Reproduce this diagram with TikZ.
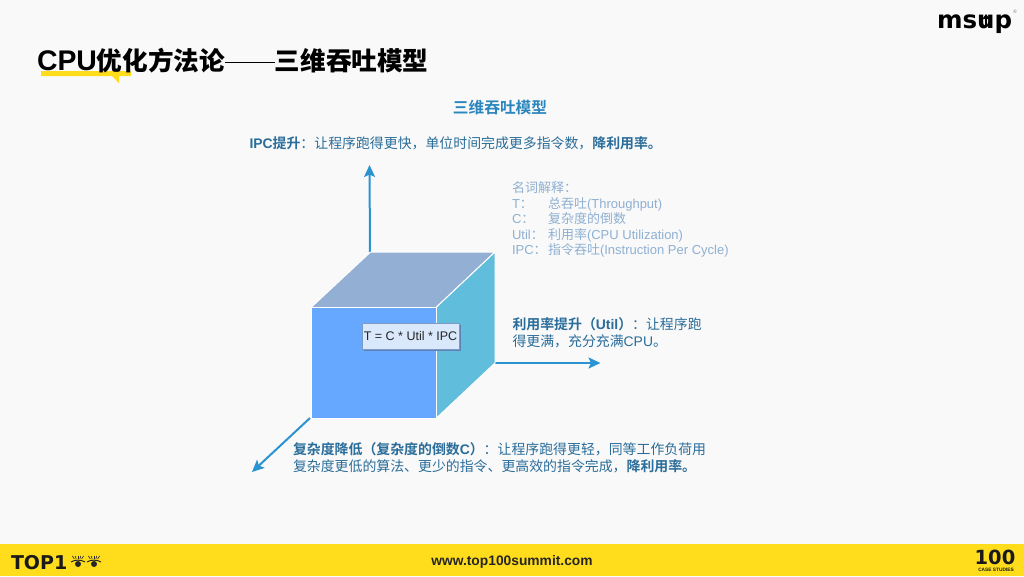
\documentclass[tikz,border=0pt]{standalone}
\usepackage{fontspec}
\setmainfont{Liberation Sans}
\newfontfamily\cjk{Noto Sans CJK SC}
\newfontfamily\cjkb{Noto Sans CJK SC Bold}
\newfontfamily\logofont{DejaVu Sans Bold}
\usetikzlibrary{arrows.meta}
\definecolor{pagebg}{HTML}{F9F9F9}
\definecolor{brandy}{HTML}{FFDD1C}
\definecolor{axisblue}{HTML}{2B93CF}
\definecolor{heading}{HTML}{2C86BE}
\definecolor{labeltxt}{HTML}{2A6D9A}
\definecolor{legendtxt}{HTML}{8FB0D2}
\definecolor{frontf}{HTML}{66A8FF}
\definecolor{topf}{HTML}{93AFD3}
\definecolor{sidef}{HTML}{60BDDB}
\definecolor{eqfill}{HTML}{DAE8FC}
\definecolor{eqdraw}{HTML}{7C9AC8}
\definecolor{eqshadow}{HTML}{5F82B5}
\tikzset{
 x=1pt,y=-1pt,
 txt/.style={inner sep=0,outer sep=0,anchor=west,align=left},
 axisline/.style={draw=axisblue,line width=2,-{Stealth[length=12,width=11,inset=2.5]}},
 face/.style={draw=white,line width=1,line join=round},
 label/.style={txt,text=labeltxt,font=\fontsize{13.9}{17}\selectfont},
 legend/.style={txt,anchor=base west,text=legendtxt,font=\fontsize{13}{14}\selectfont},
}
\newcommand{\zh}[1]{{\cjk #1}}
\newcommand{\zb}[1]{{\cjkb #1}}
\begin{document}
\begin{tikzpicture}
\useasboundingbox (0,0) rectangle (1024,576);
\fill[pagebg] (0,0) rectangle (1024,576);
% bottom band
\fill[brandy] (0,544) rectangle (1024,576);
% title highlight
\fill[brandy] (41,71) -- (131,71) -- (131,76) -- (119,76) -- (119,83) -- (112,76) -- (41,76) -- cycle;
\node[txt,font=\fontsize{25.6}{28}\bfseries\selectfont] (title) at (37,61) {\fontsize{28.4}{28}\selectfont CPU\fontsize{25.6}{28}\selectfont\zb{优化方法论}\rule[0.33em]{50pt}{0.6pt}\zb{三维吞吐模型}};
% msup logo
\node[txt,anchor=base west,font=\fontsize{24.5}{26}\selectfont] (logo) at (937,28) {\logofont msup};
\coordinate (arrowbase) at (986,26);
\coordinate (arrowtip) at (986,14);
\draw[line width=2.2,-{Triangle[length=5,width=7]}] (arrowbase) -- (arrowtip);
\node[inner sep=0,font=\fontsize{5}{5}\selectfont,text=gray] (reg) at (1015,12) {®};
% heading
\node[anchor=center,inner sep=0,text=heading,font=\fontsize{15.7}{17}\selectfont] (head) at (500,108) {\zb{三维吞吐模型}};
\node[label] (ipc) at (249.5,143.5) {\textbf{IPC}\zb{提升}\zh{：让程序跑得更快，单位时间完成更多指令数，}\zb{降利用率。}};
% legend
\node[legend] (l0) at (512,192) {\zh{名词解释：}};
\node[legend] (l1) at (512,208) {T\zh{：}};
\node[legend] (l1b) at (548,208) {\zh{总吞吐}(Throughput)};
\node[legend] (l2) at (512,223) {C\zh{：}};
\node[legend] (l2b) at (548,223) {\zh{复杂度的倒数}};
\node[legend] (l3) at (512,239) {Util\zh{：}};
\node[legend] (l3b) at (548,239) {\zh{利用率}(CPU Utilization)};
\node[legend] (l4) at (512,254) {IPC\zh{：}};
\node[legend] (l4b) at (548,254) {\zh{指令吞吐}(Instruction Per Cycle)};
% axes
\coordinate (o1) at (370,253);
\coordinate (o2) at (495,363);
\coordinate (o3) at (310,418);
\coordinate (a1) at (369.5,165);
\coordinate (a2) at (600.5,363);
\coordinate (a3) at (252,472);
\draw[axisline] (o1) -- (a1);
\draw[axisline] (o2) -- (a2);
\draw[axisline] (o3) -- (a3);
% cube
\filldraw[face,fill=topf] (311,307.5) -- (370.5,252) -- (495,252) -- (436,307.5) -- cycle;
\filldraw[face,fill=sidef] (436,307.5) -- (495,252) -- (495,363) -- (436,418.5) -- cycle;
\filldraw[face,fill=frontf] (311,307.5) rectangle (436,418.5);
% equation box
\fill[eqshadow] (364,325) rectangle (461,351);
\node[draw=eqdraw,fill=eqfill,line width=0.7,minimum width=97,minimum height=26,inner sep=0,outer sep=0,font=\fontsize{12.5}{14}\selectfont,text=black!85] (eq) at (410.5,336) {T = C * Util * IPC};
% labels
\node[label] (util) at (512.5,333) {\zb{利用率提升（}\textbf{Util}\zb{）}\zh{：让程序跑}\\\zh{得更满，充分充满}CPU\zh{。}};
\node[label] (cplx) at (293,457.5) {\zb{复杂度降低（复杂度的倒数}\textbf{C}\zb{）}\zh{：让程序跑得更轻，同等工作负荷用}\\\zh{复杂度更低的算法、更少的指令、更高效的指令完成，}\zb{降利用率。}};
% footer
\node[anchor=center,inner sep=0,font=\fontsize{13.8}{15}\bfseries\selectfont,text=black!85] (url) at (512,562) {www.top100summit.com};
\node[txt,font=\fontsize{19}{19}\selectfont,text=black!90] (top) at (11,562.5) {\logofont TOP1};
\foreach \n/\cx in {e1/78,e2/94}{
 \node[fill=black!85,circle,inner sep=0,minimum size=6] (\n) at (\cx,564) {};
 \draw[black!85,line width=1] (\cx-7,562) .. controls (\cx-3,559.5) and (\cx+3,559.5) .. (\cx+7,562);
 \foreach \a in {-2,-1,0,1,2}
   \draw[black!85,line width=0.6] (\cx+\a*1.8,559) -- ++(\a*1,-3);
}
\node[anchor=center,inner sep=0,font=\fontsize{19.5}{19.5}\selectfont,text=black!90] (hundred) at (995,557) {\logofont 100};
\node[anchor=center,inner sep=0,font=\fontsize{4.8}{4.8}\bfseries\selectfont,text=black!90] (case) at (996,570) {CASE STUDIES};
\end{tikzpicture}
\end{document}
